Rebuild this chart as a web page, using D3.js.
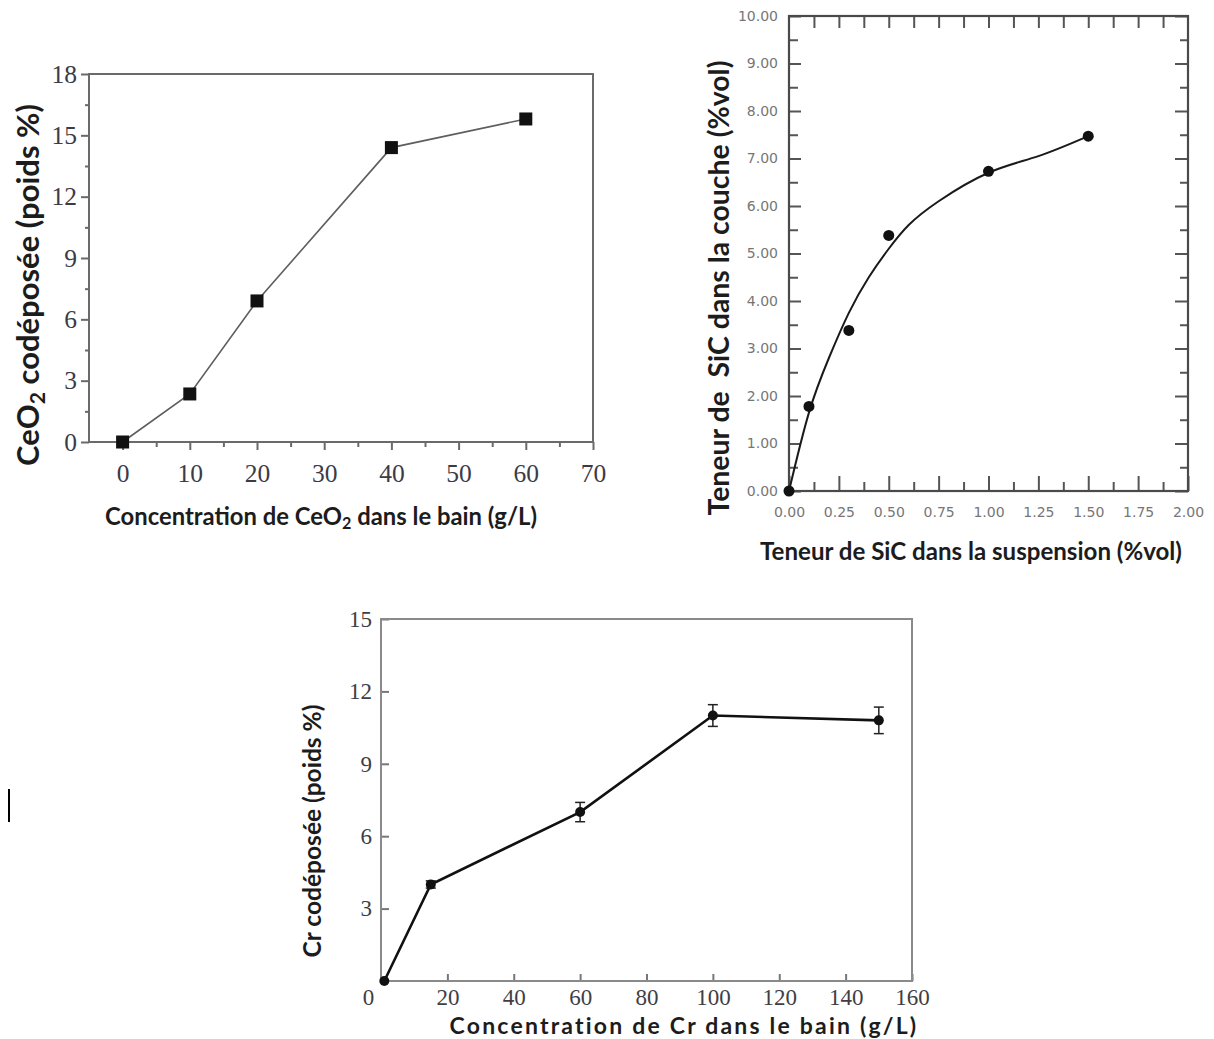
<!DOCTYPE html>
<html><head><meta charset="utf-8">
<script src="https://cdn.jsdelivr.net/npm/d3@7"></script>
<style>body{margin:0;background:#fff}svg{display:block}</style>
</head><body>
<svg id="c" width="1214" height="1039"></svg>
<script>
// ---- Chart 1 : CeO2 ----
const ceo2Bath    = [0, 10, 20, 40, 60];
const ceo2Deposit = [0, 2.35, 6.9, 14.4, 15.8];
const ceo2XTicks  = [0, 10, 20, 30, 40, 50, 60, 70];
const ceo2XMinor  = [5, 15, 25, 35, 45, 55, 65];
const ceo2YTicks  = [0, 3, 6, 9, 12, 15, 18];
const ceo2YMinor  = [1.5, 4.5, 7.5, 10.5, 13.5, 16.5];

// ---- Chart 2 : SiC ----
const sicSusp   = [0, 0.1, 0.3, 0.5, 1.0, 1.5];
const sicLayer  = [0, 1.78, 3.38, 5.38, 6.73, 7.47];
const sicFitX   = [0, 0.1, 0.2, 0.3, 0.4, 0.5, 0.6, 0.75, 1.0, 1.25, 1.5];
const sicFitY   = [0, 1.65, 2.8, 3.75, 4.5, 5.1, 5.6, 6.1, 6.7, 7.05, 7.47];
const sicXTicks = [0, 0.25, 0.5, 0.75, 1.0, 1.25, 1.5, 1.75, 2.0];
const sicXMinor = [0.125, 0.375, 0.625, 0.875, 1.125, 1.375, 1.625, 1.875];
const sicXTop   = [0.125, 0.25, 0.375, 0.5, 0.625, 0.75, 0.875, 1.0, 1.125, 1.25, 1.375, 1.5, 1.625, 1.75, 1.875];
const sicYTicks = [0, 1, 2, 3, 4, 5, 6, 7, 8, 9, 10];
const sicYMinor = [0.5, 1.5, 2.5, 3.5, 4.5, 5.5, 6.5, 7.5, 8.5, 9.5];

// ---- Chart 3 : Cr ----
const crBath    = [1, 15, 60, 100, 150];
const crDeposit = [0, 4.0, 7.0, 11.0, 10.8];
const crError   = [0, 0.15, 0.4, 0.45, 0.55];
const crXTicks  = [0, 20, 40, 60, 80, 100, 120, 140, 160];
const crYTicks  = [3, 6, 9, 12, 15];

const svg = d3.select('#c');
const TITLE_FONT = 'Lato, "Open Sans", sans-serif';
const SERIF = '"Liberation Serif", "DejaVu Serif", serif';

function styleAxis(g, o) {
  g.select('.domain').remove();
  g.selectAll('line').attr('stroke', o.stroke).attr('stroke-width', o.sw);
  g.selectAll('text').attr('font-family', o.font).attr('font-size', o.size).attr('fill', o.fill);
}
// mode 'size': scale font-size to reach target width; 'spacing': adjust letter-spacing
function title(parts, x, y, rot, size, target, mode) {
  const t = svg.append('text')
    .attr('font-family', TITLE_FONT).attr('font-weight', 700)
    .attr('font-size', size).attr('fill', '#1c1c1c')
    .attr('text-anchor', 'middle').attr('dominant-baseline', 'central')
    .attr('transform', `translate(${x},${y}) rotate(${rot})`);
  let shiftBack = false;
  parts.forEach(p => {
    const s = t.append('tspan').text(p.t);
    if (p.sub) { s.attr('font-size', '0.68em').attr('dy', '0.42em'); shiftBack = true; }
    else if (shiftBack) { s.attr('dy', (-0.42 * 0.68).toFixed(3) + 'em'); shiftBack = false; }
  });
  const node = t.node();
  const L = node.getComputedTextLength();
  if (mode === 'spacing') {
    t.attr('letter-spacing', ((target - L) / (node.getNumberOfChars() - 1)).toFixed(3));
  } else {
    t.attr('font-size', (size * target / L).toFixed(2));
  }
  return t;
}

// =============== Chart 1 ===============
{
  const x = d3.scaleLinear().domain([-5, 70]).range([89, 593]);
  const y = d3.scaleLinear().domain([0, 18]).range([442, 74]);
  const ax = {stroke: '#6a6a6a', sw: 2, font: SERIF, size: 25.5, fill: '#3b3b46'};
  const gb = svg.append('g').attr('transform', `translate(0,${y(0)})`)
    .call(d3.axisBottom(x).tickValues(ceo2XTicks).tickSize(8).tickPadding(14).tickFormat(d3.format('d')));
  styleAxis(gb, ax);
  const gbm = svg.append('g').attr('transform', `translate(0,${y(0)})`)
    .call(d3.axisBottom(x).tickValues(ceo2XMinor).tickSize(5).tickFormat(''));
  styleAxis(gbm, ax);
  const gl = svg.append('g').attr('transform', `translate(${x(-5)},0)`)
    .call(d3.axisLeft(y).tickValues(ceo2YTicks).tickSize(8).tickPadding(4).tickFormat(d3.format('d')));
  styleAxis(gl, ax);
  const glm = svg.append('g').attr('transform', `translate(${x(-5)},0)`)
    .call(d3.axisLeft(y).tickValues(ceo2YMinor).tickSize(4).tickFormat(''));
  styleAxis(glm, ax);
  svg.append('rect').attr('x', x(-5)).attr('y', y(18))
    .attr('width', x(70) - x(-5)).attr('height', y(0) - y(18))
    .attr('fill', 'none').attr('stroke', '#6a6a6a').attr('stroke-width', 2);
  const pts = ceo2Bath.map((b, i) => [b, ceo2Deposit[i]]);
  svg.append('path').datum(pts)
    .attr('d', d3.line().x(d => x(d[0])).y(d => y(d[1])))
    .attr('fill', 'none').attr('stroke', '#5e5e5e').attr('stroke-width', 1.6);
  svg.append('g').selectAll('rect').data(pts).join('rect')
    .attr('x', d => x(d[0]) - 6.5).attr('y', d => y(d[1]) - 6.5)
    .attr('width', 13).attr('height', 13).attr('fill', '#111');
  title([{t: 'Concentration de CeO'}, {t: '2', sub: true}, {t: ' dans le bain (g/L)'}], 321, 515, 0, 22, 432, 'size');
  title([{t: 'CeO'}, {t: '2', sub: true}, {t: ' codéposée (poids %)'}], 27, 285, -90, 24, 362, 'size');
}

// =============== Chart 2 ===============
{
  const x = d3.scaleLinear().domain([0, 2]).range([789, 1188]);
  const y = d3.scaleLinear().domain([0, 10]).range([491, 16]);
  const ax = {stroke: '#555', sw: 2, font: '"DejaVu Sans", sans-serif', size: 14, fill: '#767676'};
  const f2 = d3.format('.2f');
  const gb = svg.append('g').attr('transform', `translate(0,${y(0)})`)
    .call(d3.axisBottom(x).tickValues(sicXTicks).tickSize(-15).tickPadding(16).tickFormat(f2));
  styleAxis(gb, ax);
  const gbm = svg.append('g').attr('transform', `translate(0,${y(0)})`)
    .call(d3.axisBottom(x).tickValues(sicXMinor).tickSize(-9).tickFormat(''));
  styleAxis(gbm, ax);
  const gt = svg.append('g').attr('transform', `translate(0,${y(10)})`)
    .call(d3.axisTop(x).tickValues(sicXTop).tickSize(-12).tickFormat(''));
  styleAxis(gt, ax);
  const gl = svg.append('g').attr('transform', `translate(${x(0)},0)`)
    .call(d3.axisLeft(y).tickValues(sicYTicks).tickSize(-12).tickPadding(11).tickFormat(f2));
  styleAxis(gl, ax);
  const glm = svg.append('g').attr('transform', `translate(${x(0)},0)`)
    .call(d3.axisLeft(y).tickValues(sicYMinor).tickSize(-9).tickFormat(''));
  styleAxis(glm, ax);
  const gr = svg.append('g').attr('transform', `translate(${x(2)},0)`)
    .call(d3.axisRight(y).tickValues(sicYTicks).tickSize(-13).tickFormat(''));
  styleAxis(gr, ax);
  const grm = svg.append('g').attr('transform', `translate(${x(2)},0)`)
    .call(d3.axisRight(y).tickValues(sicYMinor).tickSize(-8).tickFormat(''));
  styleAxis(grm, ax);
  svg.append('rect').attr('x', x(0)).attr('y', y(10))
    .attr('width', x(2) - x(0)).attr('height', y(0) - y(10))
    .attr('fill', 'none').attr('stroke', '#4a4a4a').attr('stroke-width', 2.2);
  const fit = sicFitX.map((v, i) => [v, sicFitY[i]]);
  svg.append('path').datum(fit)
    .attr('d', d3.line().curve(d3.curveNatural).x(d => x(d[0])).y(d => y(d[1])))
    .attr('fill', 'none').attr('stroke', '#1a1a1a').attr('stroke-width', 2);
  const pts = sicSusp.map((v, i) => [v, sicLayer[i]]);
  svg.append('g').selectAll('circle').data(pts).join('circle')
    .attr('cx', d => x(d[0])).attr('cy', d => y(d[1])).attr('r', 5.5).attr('fill', '#111');
  title([{t: 'Teneur de SiC dans la suspension (%vol)'}], 971, 550, 0, 23, 422, 'size');
  title([{t: 'Teneur de\u00a0\u00a0SiC dans la couche (%vol)'}], 718, 288, -90, 24, 455, 'size');
}

// =============== Chart 3 ===============
{
  const x = d3.scaleLinear().domain([0, 160]).range([381, 912]);
  const y = d3.scaleLinear().domain([0, 15]).range([981, 619]);
  const ax = {stroke: '#777', sw: 2, font: SERIF, size: 23, fill: '#3e3e44'};
  const gb = svg.append('g').attr('transform', `translate(0,${y(0)})`)
    .call(d3.axisBottom(x).tickValues(crXTicks).tickSize(-7).tickPadding(8).tickFormat(d3.format('d')));
  styleAxis(gb, ax);
  gb.selectAll('.tick').filter(d => d === 0).select('line').remove();
  gb.selectAll('.tick').filter(d => d === 0).select('text').attr('dx', -13);
  const gl = svg.append('g').attr('transform', `translate(${x(0)},0)`)
    .call(d3.axisLeft(y).tickValues(crYTicks).tickSize(-8).tickPadding(9).tickFormat(d3.format('d')));
  styleAxis(gl, ax);
  svg.append('rect').attr('x', x(0)).attr('y', y(15))
    .attr('width', x(160) - x(0)).attr('height', y(0) - y(15))
    .attr('fill', 'none').attr('stroke', '#8a8a8a').attr('stroke-width', 2);
  const pts = crBath.map((v, i) => ({x: v, y: crDeposit[i], e: crError[i]}));
  const eb = svg.append('g').attr('stroke', '#222').attr('stroke-width', 1.5);
  pts.filter(d => d.e > 0).forEach(d => {
    eb.append('line').attr('x1', x(d.x)).attr('x2', x(d.x)).attr('y1', y(d.y - d.e)).attr('y2', y(d.y + d.e));
    [d.y - d.e, d.y + d.e].forEach(v => eb.append('line')
      .attr('x1', x(d.x) - 5).attr('x2', x(d.x) + 5).attr('y1', y(v)).attr('y2', y(v)));
  });
  svg.append('path').datum(pts)
    .attr('d', d3.line().x(d => x(d.x)).y(d => y(d.y)))
    .attr('fill', 'none').attr('stroke', '#111').attr('stroke-width', 2.6);
  svg.append('g').selectAll('circle').data(pts).join('circle')
    .attr('cx', d => x(d.x)).attr('cy', d => y(d.y)).attr('r', 5).attr('fill', '#111');
  title([{t: 'Concentration de Cr dans le bain (g/L)'}], 684, 1025, 0, 23, 467, 'spacing');
  title([{t: 'Cr codéposée (poids %)'}], 311, 831, -90, 22, 253, 'size');
}

// stray cursor bar at the left edge of the original picture
svg.append('line').attr('x1', 9).attr('x2', 9).attr('y1', 789).attr('y2', 822)
  .attr('stroke', '#000').attr('stroke-width', 2);
</script>
</body></html>
